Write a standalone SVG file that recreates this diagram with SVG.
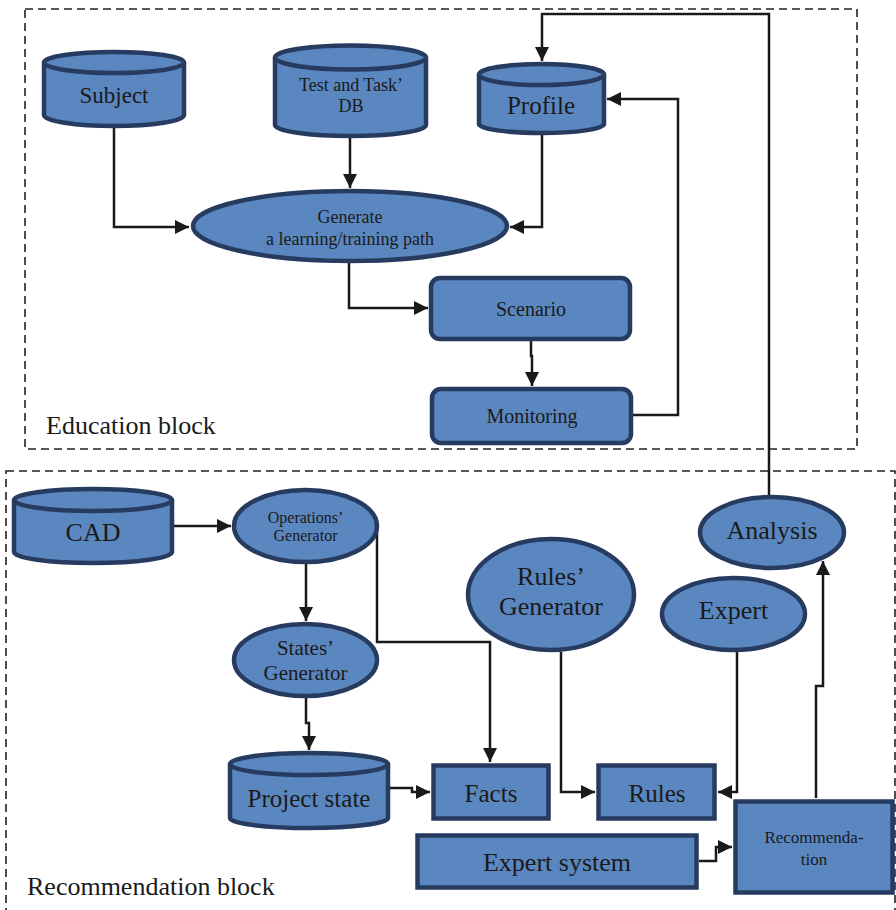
<svg xmlns="http://www.w3.org/2000/svg" width="896" height="910" viewBox="0 0 896 910">
<style>
.n{fill:#5a87c0;stroke:#263b5f;stroke-width:4.5}
.t{font-family:"Liberation Serif","Times New Roman",serif;fill:#1a1a1a;text-anchor:middle;dominant-baseline:central}
.l{font-family:"Liberation Serif","Times New Roman",serif;fill:#1a1a1a;font-size:26px}
.c{fill:none;stroke:#1a1a1a;stroke-width:2.5}
.b{fill:none;stroke:#222;stroke-width:1.6;stroke-dasharray:8 5}
</style>
<defs>
<marker id="a" markerUnits="userSpaceOnUse" markerWidth="16" markerHeight="16" refX="14" refY="7" orient="auto">
<path d="M0,0 L14,7 L0,14 z" fill="#1a1a1a"/>
</marker>
</defs>
<g id="blocks">
<rect class="b" x="25" y="9" width="832" height="440"/>
<rect class="b" x="6" y="471" width="889" height="445"/>
<text class="l" x="46" y="434">Education block</text>
<text class="l" x="27" y="895" font-size="27">Recommendation block</text>
</g>
<g id="connectors">
<polyline class="c" points="114,128 114,227 189,227" marker-end="url(#a)"/>
<polyline class="c" points="350,138 350,188" marker-end="url(#a)"/>
<polyline class="c" points="542,135 542,227 510,227" marker-end="url(#a)"/>
<polyline class="c" points="349,263 349,308 428,308" marker-end="url(#a)"/>
<polyline class="c" points="531,341 531,356 532,356 532,386" marker-end="url(#a)"/>
<polyline class="c" points="633,415 678,415 678,99 607,99" marker-end="url(#a)"/>
<polyline class="c" points="769,495 769,14 542,14 542,61" marker-end="url(#a)"/>
<polyline class="c" points="174,526 231,526" marker-end="url(#a)"/>
<polyline class="c" points="306,564 306,621" marker-end="url(#a)"/>
<polyline class="c" points="377,523 377,642 490,642 490,762" marker-end="url(#a)"/>
<polyline class="c" points="306,698 306,723 309,723 309,750" marker-end="url(#a)"/>
<polyline class="c" points="390,788 412,788 412,792 430,792" marker-end="url(#a)"/>
<polyline class="c" points="561,652 561,792 595,792" marker-end="url(#a)"/>
<polyline class="c" points="737,652 737,792 718,792" marker-end="url(#a)"/>
<polyline class="c" points="816,798 816,686 823,686 823,561" marker-end="url(#a)"/>
<polyline class="c" points="699,861 716,861 716,847 732,847" marker-end="url(#a)"/>
</g>
<g id="subject">
<path class="n" d="M44,62.5 A70,10.5 0 0 1 184,62.5 V115 A70,11 0 0 1 44,115 Z"/>
<path class="n" d="M44,62.5 A70,10.5 0 0 0 184,62.5"/>
<text class="t" x="114" y="95" font-size="23">Subject</text>
</g>
<g id="testdb">
<path class="n" d="M275,57.5 A75.5,12 0 0 1 426,57.5 V125 A75.5,11 0 0 1 275,125 Z"/>
<path class="n" d="M275,57.5 A75.5,12 0 0 0 426,57.5"/>
<text class="t" x="351" y="85" font-size="18">Test and Task’</text>
<text class="t" x="351" y="106" font-size="18">DB</text>
</g>
<g id="profile">
<path class="n" d="M479,74.5 A62.5,10.5 0 0 1 604,74.5 V124 A62.5,9 0 0 1 479,124 Z"/>
<path class="n" d="M479,74.5 A62.5,10.5 0 0 0 604,74.5"/>
<text class="t" x="541" y="105" font-size="25">Profile</text>
</g>
<g id="generate">
<ellipse class="n" cx="350" cy="226" rx="157" ry="35"/>
<text class="t" x="350" y="217" font-size="18">Generate</text>
<text class="t" x="350" y="239" font-size="18">a learning/training path</text>
</g>
<g id="scenario">
<rect class="n" x="431" y="278" width="199" height="61" rx="9"/>
<text class="t" x="531" y="309" font-size="20">Scenario</text>
</g>
<g id="monitoring">
<rect class="n" x="432" y="389" width="199" height="54" rx="9"/>
<text class="t" x="532" y="416" font-size="20">Monitoring</text>
</g>
<g id="cad">
<path class="n" d="M14,500 A79,11 0 0 1 172,500 V552 A79,11 0 0 1 14,552 Z"/>
<path class="n" d="M14,500 A79,11 0 0 0 172,500"/>
<text class="t" x="93" y="532" font-size="26">CAD</text>
</g>
<g id="operations">
<ellipse class="n" cx="305.5" cy="526" rx="71.5" ry="36"/>
<text class="t" x="305.5" y="517" font-size="16">Operations’</text>
<text class="t" x="305.5" y="535" font-size="16">Generator</text>
</g>
<g id="states">
<ellipse class="n" cx="305.5" cy="660" rx="71.5" ry="36"/>
<text class="t" x="305.5" y="648" font-size="21">States’</text>
<text class="t" x="305.5" y="673" font-size="21">Generator</text>
</g>
<g id="projectstate">
<path class="n" d="M230,764 A79,11 0 0 1 388,764 V818 A79,10 0 0 1 230,818 Z"/>
<path class="n" d="M230,764 A79,11 0 0 0 388,764"/>
<text class="t" x="309" y="798" font-size="25">Project state</text>
</g>
<g id="rulesgen">
<ellipse class="n" cx="551" cy="594.5" rx="83" ry="55.5"/>
<text class="t" x="551" y="576" font-size="26">Rules’</text>
<text class="t" x="551" y="606" font-size="26">Generator</text>
</g>
<g id="expert">
<ellipse class="n" cx="733.5" cy="614" rx="71.5" ry="36"/>
<text class="t" x="733.5" y="610" font-size="26">Expert</text>
</g>
<g id="analysis">
<ellipse class="n" cx="772" cy="532.5" rx="72" ry="35.5"/>
<text class="t" x="772" y="530" font-size="26">Analysis</text>
</g>
<g id="facts">
<rect class="n" x="433.5" y="765.5" width="115" height="53" stroke-width="5"/>
<text class="t" x="491" y="793" font-size="25">Facts</text>
</g>
<g id="rules">
<rect class="n" x="598.5" y="765.5" width="116" height="53" stroke-width="5"/>
<text class="t" x="657" y="793" font-size="25">Rules</text>
</g>
<g id="expertsystem">
<rect class="n" x="417.5" y="835.5" width="279" height="52" stroke-width="5"/>
<text class="t" x="557" y="862" font-size="26">Expert system</text>
</g>
<g id="recommendation">
<rect class="n" x="735.5" y="801.5" width="157" height="91" stroke-width="5"/>
<text class="t" x="814" y="837" font-size="17">Recommenda-</text>
<text class="t" x="814" y="859" font-size="17">tion</text>
</g>
</svg>
